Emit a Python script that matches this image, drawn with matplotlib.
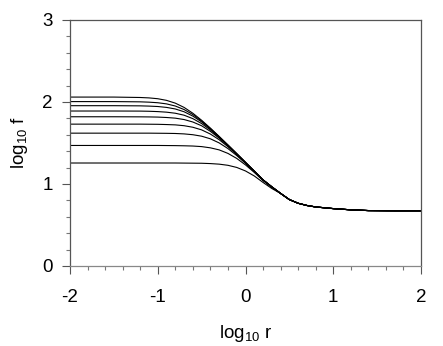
import matplotlib
matplotlib.use('Agg')
import matplotlib.pyplot as plt
from matplotlib.ticker import MultipleLocator

plt.rcParams['font.family'] = ['Liberation Sans', 'DejaVu Sans']
plt.rcParams['mathtext.default'] = 'regular'
plt.rcParams['axes.unicode_minus'] = False

# Data (log10 r, log10 f)
x_head = [-2.0, -1.5, -1.2, -1.1, -1.0, -0.9, -0.8, -0.7, -0.6, -0.5,
          -0.4, -0.3, -0.2, -0.1, 0.0, 0.1, 0.2, 0.3]

# one row per curve, lowest plateau first
heads = [
    [1.256, 1.256, 1.256, 1.256, 1.256, 1.256, 1.256, 1.255, 1.254, 1.253,
     1.249, 1.242, 1.228, 1.202, 1.159, 1.098, 1.019, 0.945],
    [1.470, 1.470, 1.470, 1.470, 1.470, 1.469, 1.468, 1.466, 1.463, 1.456,
     1.441, 1.416, 1.373, 1.312, 1.233, 1.141, 1.042, 0.960],
    [1.620, 1.620, 1.620, 1.620, 1.619, 1.618, 1.616, 1.611, 1.601, 1.583,
     1.551, 1.501, 1.432, 1.347, 1.252, 1.151, 1.047, 0.965],
    [1.730, 1.730, 1.730, 1.729, 1.728, 1.725, 1.721, 1.711, 1.692, 1.660,
     1.609, 1.540, 1.455, 1.359, 1.258, 1.154, 1.049, 0.965],
    [1.820, 1.820, 1.819, 1.818, 1.816, 1.811, 1.803, 1.786, 1.756, 1.710,
     1.642, 1.559, 1.465, 1.365, 1.261, 1.156, 1.050, 0.965],
    [1.890, 1.890, 1.889, 1.887, 1.883, 1.876, 1.863, 1.839, 1.797, 1.737,
     1.659, 1.568, 1.470, 1.367, 1.262, 1.156, 1.050, 0.965],
    [1.955, 1.955, 1.953, 1.950, 1.945, 1.934, 1.915, 1.881, 1.828, 1.757,
     1.670, 1.574, 1.473, 1.368, 1.263, 1.157, 1.050, 0.965],
    [2.005, 2.005, 2.002, 1.998, 1.991, 1.977, 1.951, 1.908, 1.847, 1.768,
     1.676, 1.577, 1.474, 1.369, 1.263, 1.157, 1.050, 0.965],
    [2.060, 2.060, 2.055, 2.050, 2.040, 2.020, 1.986, 1.934, 1.863, 1.777,
     1.681, 1.580, 1.475, 1.370, 1.263, 1.157, 1.050, 0.965],
]

# common tail shared by all curves
x_tail = [0.4, 0.5, 0.6, 0.7, 0.8, 1.0, 1.2, 1.4, 1.7, 2.0]
tail = [0.885, 0.810, 0.765, 0.738, 0.720, 0.700, 0.685, 0.676, 0.674, 0.674]

fig = plt.figure(figsize=(4.43, 3.46), dpi=100)
ax = fig.add_axes([70 / 443, 80 / 346, 351 / 443, 246 / 346])

for h in heads:
    ax.plot(x_head + x_tail, h + tail, color='black', lw=0.8)

ax.set_xlim(-2, 2)
ax.set_ylim(0, 3)
ax.xaxis.set_major_locator(MultipleLocator(1))
ax.xaxis.set_minor_locator(MultipleLocator(0.2))
ax.yaxis.set_major_locator(MultipleLocator(1))
ax.yaxis.set_minor_locator(MultipleLocator(0.2))
ax.tick_params(which='major', direction='out', length=5.5, width=0.8,
               color='#555555', labelsize=13.5)
ax.tick_params(axis='x', which='major', pad=11)
ax.tick_params(axis='y', which='major', pad=7)
ax.tick_params(which='minor', direction='out', length=3, width=0.8,
               color='#777777')

for s in ax.spines.values():
    s.set_color('#555555')
    s.set_linewidth(0.9)
ax.spines['bottom'].set_color('#888888')

ax.set_xlabel(r'log$_{10}$ r', fontsize=13.5, labelpad=12)
ax.set_ylabel(r'log$_{10}$ f', fontsize=13.5, labelpad=9)

fig.savefig('out.png', dpi=100)
